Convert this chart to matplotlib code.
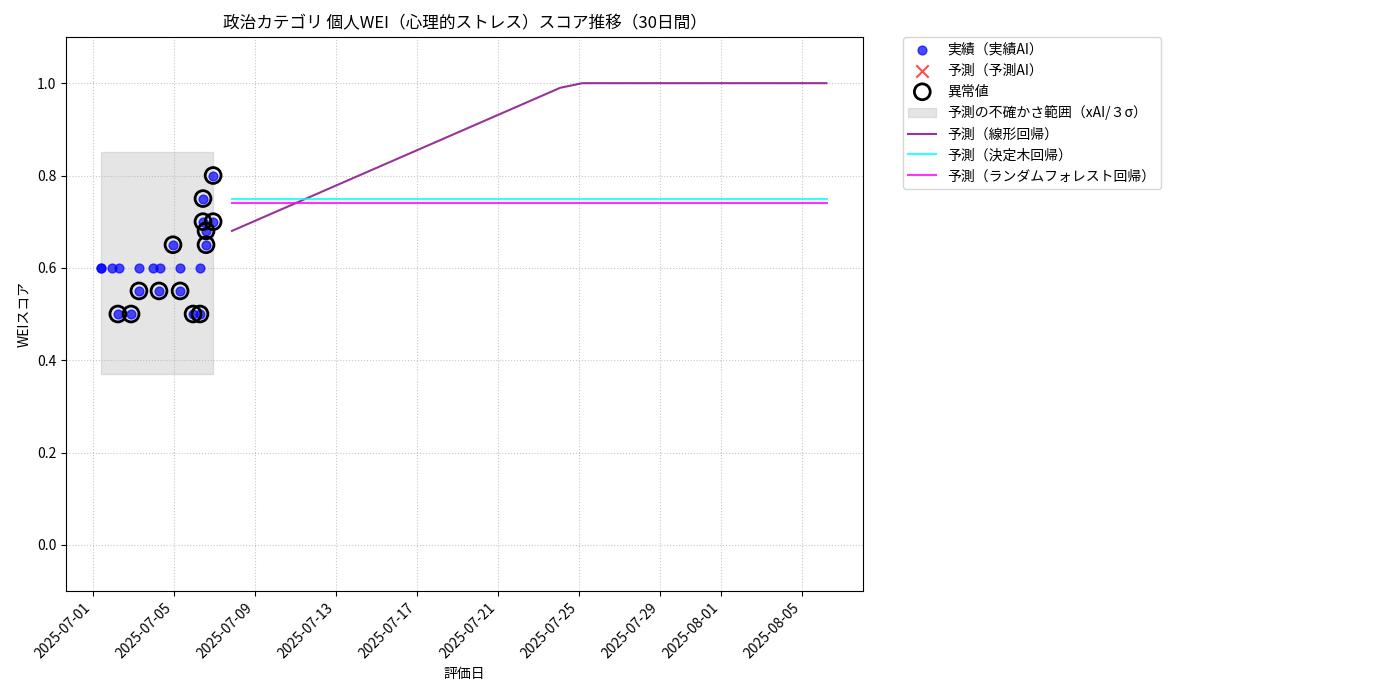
import matplotlib
matplotlib.use("Agg")
import matplotlib.pyplot as plt
import matplotlib.dates as mdates
import pandas as pd
import numpy as np

plt.rcParams['font.family'] = ['Noto Sans CJK JP', 'DejaVu Sans']

base = pd.Timestamp("2025-07-01")
# actual points: days offset from 2025-07-01, values
act_days = [0.40, 0.40, 0.94, 1.28, 2.27, 2.96, 3.31, 4.30, 5.28,
            1.23, 1.88, 4.94, 5.28, 2.27, 3.26, 4.30, 3.95, 5.58, 5.43, 5.93, 5.58, 5.43, 5.93]
act_vals = [0.60, 0.60, 0.60, 0.60, 0.60, 0.60, 0.60, 0.60, 0.60,
            0.50, 0.50, 0.50, 0.50, 0.55, 0.55, 0.55, 0.65, 0.65, 0.70, 0.70, 0.68, 0.75, 0.80]
out_days = act_days[9:]
out_vals = act_vals[9:]
band_days = [0.40, 5.93]
band_low, band_high = 0.37, 0.85

fc_days = [6.86, 23.06, 24.15, 36.20]
fc_linear = [0.68, 0.99, 1.00, 1.00]
fc_tree = [0.75, 0.75, 0.75, 0.75]
fc_forest = [0.74, 0.74, 0.74, 0.74]

to_dt = lambda d: [base + pd.Timedelta(days=x) for x in d]

fig = plt.figure(figsize=(14, 7), dpi=100)
ax = fig.add_axes([66/1400, 1-591/700, (863-66)/1400, (591-37)/700])
ax.scatter(to_dt(act_days), act_vals, color='blue', alpha=0.7, s=40, label='実績（実績AI）', zorder=3)
ax.scatter([], [], color='red', marker='x', s=80, alpha=0.7, label='予測（予測AI）')
ax.scatter(to_dt(out_days), out_vals, facecolors='none', edgecolors='black', s=130, linewidths=2, label='異常値', zorder=4)
ax.fill_between(to_dt(band_days), band_low, band_high, color='gray', alpha=0.2, label='予測の不確かさ範囲（xAI/３σ）')
ax.plot(to_dt(fc_days), fc_linear, color='purple', alpha=0.8, label='予測（線形回帰）')
ax.plot(to_dt(fc_days), fc_tree, color='cyan', alpha=0.8, label='予測（決定木回帰）')
ax.plot(to_dt(fc_days), fc_forest, color='magenta', alpha=0.8, label='予測（ランダムフォレスト回帰）')

ax.set_xlim(base + pd.Timedelta(days=-1.33), base + pd.Timedelta(days=38.0))
ax.set_ylim(-0.1, 1.1)
ax.xaxis.set_major_locator(mdates.DayLocator(bymonthday=[1, 5, 9, 13, 17, 21, 25, 29]))
ax.xaxis.set_major_formatter(mdates.DateFormatter('%Y-%m-%d'))
plt.setp(ax.get_xticklabels(), rotation=45, ha='right')
ax.grid(True, linestyle=':', alpha=0.7)
ax.set_title('政治カテゴリ 個人WEI（心理的ストレス）スコア推移（30日間）', fontsize=12)
ax.set_xlabel('評価日')
ax.set_ylabel('WEIスコア')
ax.legend(loc='upper left', bbox_to_anchor=(1.05, 1.0), borderaxespad=0)
fig.savefig('out.png', dpi=100)
